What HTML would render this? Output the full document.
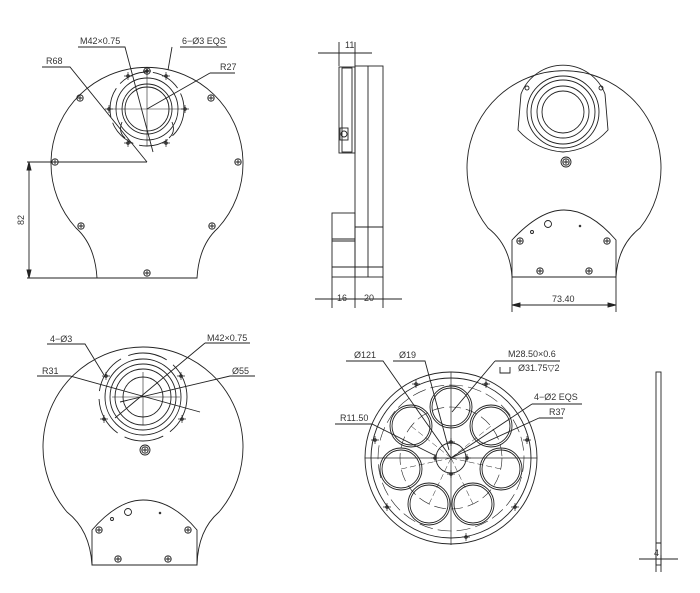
<!DOCTYPE html>
<html><head><meta charset="utf-8"><style>
html,body{margin:0;padding:0;background:#fff;}
svg{display:block;}
text{font-family:"Liberation Sans",sans-serif;font-size:9px;fill:#333;stroke:none;}
</style></head><body>
<svg width="700" height="593" viewBox="0 0 700 593" xmlns="http://www.w3.org/2000/svg" fill="none" stroke="#222" stroke-width="0.9">
<defs>
<g id="scr"><circle r="3.2"/><path d="M-2.5 0H2.5M0 -2.5V2.5"/></g>
<g id="cr"><path d="M-4 0H4M0 -4V4" stroke-width="0.7"/><circle r="1.3"/></g>
</defs>

<!-- ===== Top-left front view ===== -->
<path d="M97 278 Q95 245 76 228 A96 96 0 1 1 218 228 Q199 245 197 278 Z"/>
<g>
<circle cx="147" cy="109" r="22"/>
<circle cx="147" cy="109" r="25"/>
<circle cx="147" cy="109" r="31"/>
<circle cx="147" cy="109" r="37" stroke-dasharray="30 6"/>
<path d="M122 122 Q118 132 125 138 M172 122 Q176 132 169 138"/>
<path d="M110 109H184M147 72V146" stroke-width="0.6"/>
</g>
<use href="#cr" x="147" y="71"/><use href="#cr" x="128" y="76"/><use href="#cr" x="166" y="76"/>
<use href="#cr" x="109" y="109"/><use href="#cr" x="185" y="109"/>
<use href="#cr" x="128" y="143"/><use href="#cr" x="166" y="143"/>
<use href="#scr" x="147" y="71"/>
<use href="#scr" x="80" y="98"/><use href="#scr" x="211" y="98"/>
<use href="#scr" x="55" y="162"/><use href="#scr" x="238" y="162"/>
<use href="#scr" x="81" y="226"/><use href="#scr" x="212" y="226"/>
<use href="#scr" x="147" y="273"/>
<path d="M27 162H147M27 278H97M29 162V278"/>
<path d="M29 162l-2 8h4z M29 278l-2 -8h4z" fill="#222"/>
<text transform="translate(24 225) rotate(-90)">82</text>
<text x="80" y="44">M42×0.75</text><path d="M78 47H125L153 152"/>
<text x="182" y="44">6−Ø3 EQS</text><path d="M180 47H227M172 47L168 70"/>
<text x="46" y="64">R68</text><path d="M42 67H70L147 162"/>
<text x="220" y="70">R27</text><path d="M210 73H235M210 73L147 109"/>

<!-- ===== Side view ===== -->
<rect x="355" y="66" width="28" height="211"/>
<path d="M368 66V277M355 227H383M332 267H383"/>
<rect x="339" y="67" width="16" height="86"/>
<rect x="342" y="68" width="10" height="84"/>
<circle cx="344" cy="134" r="3"/><rect x="340" y="128" width="8" height="12"/>
<rect x="332" y="213" width="23" height="64"/>
<path d="M332 239H355M332 241H355"/>
<path d="M339 42V66M355 42V66M318 53H372M315 299H402M332 277V308M355 277V308M383 277V308"/>
<text x="345" y="48">11</text><text x="337" y="301">16</text><text x="364" y="301">20</text>

<!-- ===== Top-right back view ===== -->
<path d="M512 277 Q510 245 488 228 A97 97 0 1 1 640 228 Q618 245 616 277 Z"/>
<circle cx="563" cy="112" r="21"/><circle cx="563" cy="112" r="26"/>
<circle cx="563" cy="112" r="32"/><circle cx="563" cy="112" r="36"/>
<path d="M521 94 A45 45 0 0 1 605 94 L608 130 Q590 150 563 152 Q536 150 518 130 Z"/>
<circle cx="527" cy="88" r="2"/><circle cx="601" cy="88" r="2"/>
<use href="#scr" x="566" y="162"/><circle cx="566" cy="162" r="5"/>
<path d="M512 277V240 Q540 210 564 210 Q590 210 616 240V277 Z"/>
<circle cx="548" cy="224" r="3.5"/><circle cx="532" cy="232" r="1.5"/><circle cx="580" cy="226" r="0.8"/>
<use href="#scr" x="520" y="241"/><use href="#scr" x="607" y="241"/>
<use href="#scr" x="540" y="271"/><use href="#scr" x="589" y="271"/>
<path d="M512 277V312M616 277V312M512 305H616"/>
<path d="M512 305l8 -2v4z M616 305l-8 -2v4z" fill="#222"/>
<text x="552" y="302">73.40</text>

<!-- ===== Bottom-left view ===== -->
<path d="M92 565 Q90 530 67 512 A100 100 0 1 1 219 512 Q198 530 197 565 Z"/>
<circle cx="143" cy="397" r="20"/><circle cx="143" cy="397" r="28"/>
<circle cx="143" cy="397" r="33"/><circle cx="143" cy="397" r="38"/>
<circle cx="143" cy="397" r="44" stroke-dasharray="40 8"/>
<path d="M112 397H180M143 372V425" stroke-width="0.6"/>
<use href="#cr" x="106" y="376"/><use href="#cr" x="181" y="376"/>
<use href="#cr" x="104" y="419"/><use href="#cr" x="182" y="419"/>
<circle cx="145" cy="450" r="5"/><use href="#scr" x="145" y="450"/>
<path d="M92 565V530 Q118 500 143 500 Q172 500 197 530V565 Z"/>
<circle cx="128" cy="512" r="3.5"/><circle cx="112" cy="519" r="1.5"/><circle cx="160" cy="513" r="0.8"/>
<use href="#scr" x="99" y="530"/><use href="#scr" x="188" y="530"/>
<use href="#scr" x="118" y="559"/><use href="#scr" x="168" y="559"/>
<text x="50" y="342">4−Ø3</text><path d="M47 344H85L104 375"/>
<text x="207" y="341">M42×0.75</text><path d="M205 343H250M205 343L115 418"/>
<text x="42" y="374">R31</text><path d="M37 376H70L200 412"/>
<text x="232" y="374">Ø55</text><path d="M255 376H230L120 402"/>

<!-- ===== Filter wheel ===== -->
<circle cx="451" cy="458" r="86"/><circle cx="451" cy="458" r="80"/>
<circle cx="451" cy="458" r="73" stroke-dasharray="14 5" stroke-width="0.6"/>
<circle cx="451" cy="458" r="51" stroke-dasharray="12 5" stroke-width="0.6"/>
<circle cx="451" cy="458" r="15"/>
<path d="M365 458H537M451 372V545" stroke-width="0.7"/>
<g>
<circle cx="451" cy="407" r="21"/><circle cx="451" cy="407" r="19"/>
<circle cx="491" cy="426" r="21"/><circle cx="491" cy="426" r="19"/>
<circle cx="501" cy="469" r="21"/><circle cx="501" cy="469" r="19"/>
<circle cx="473" cy="504" r="21"/><circle cx="473" cy="504" r="19"/>
<circle cx="429" cy="504" r="21"/><circle cx="429" cy="504" r="19"/>
<circle cx="401" cy="469" r="21"/><circle cx="401" cy="469" r="19"/>
<circle cx="411" cy="426" r="21"/><circle cx="411" cy="426" r="19"/>
</g>
<path d="M451 458L491 426M451 458L501 469M451 458L473 504M451 458L429 504M451 458L401 469M451 458L411 426" stroke-width="0.5" stroke-dasharray="6 3"/>
<use href="#cr" x="451" y="442"/><use href="#cr" x="451" y="474"/>
<use href="#cr" x="435" y="458"/><use href="#cr" x="467" y="458"/>
<use href="#cr" x="416" y="384"/><use href="#cr" x="486" y="384"/>
<use href="#cr" x="375" y="440"/><use href="#cr" x="527" y="440"/>
<use href="#cr" x="387" y="507"/><use href="#cr" x="515" y="507"/>
<use href="#cr" x="466" y="537"/>
<text x="354" y="358">Ø121</text><path d="M346 361H383L451 458"/>
<text x="399" y="358">Ø19</text><path d="M393 361H425L449 450"/>
<text x="508" y="357">M28.50×0.6</text><path d="M495 361H560M495 361L452 412"/>
<path d="M500 367V373H510V367"/><text x="518" y="371">Ø31.75▽2</text>
<text x="534" y="400">4−Ø2 EQS</text><path d="M532 404H582M532 404L451 458"/>
<text x="549" y="415">R37</text><path d="M539 418H563M539 418L451 458"/>
<text x="340" y="421">R11.50</text><path d="M335 424H372L436 456"/>

<!-- ===== Thin plate ===== -->
<rect x="656" y="372" width="5" height="193"/>
<path d="M656 543H661M656 555V572M661 555V572M639 559H678"/>
<text x="654" y="556" font-size="7">4</text>
</svg>
</body></html>
